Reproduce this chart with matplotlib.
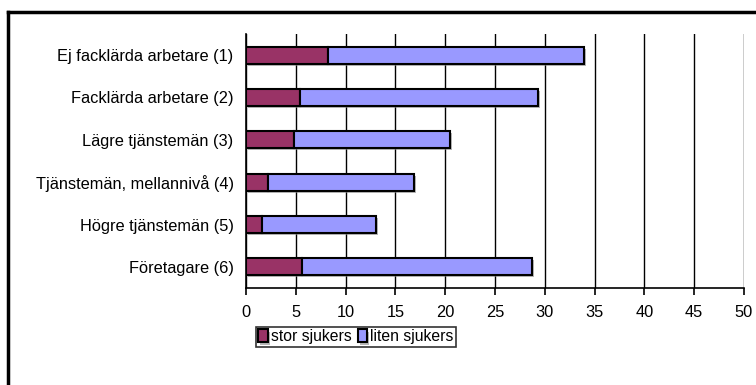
import numpy as np
import matplotlib.pyplot as plt
import matplotlib.patheffects as pe
from matplotlib.lines import Line2D

# Sjukfrånvaro per socioekonomisk grupp
categories = ["Ej facklärda arbetare (1)", "Facklärda arbetare (2)",
              "Lägre tjänstemän (3)", "Tjänstemän, mellannivå (4)",
              "Högre tjänstemän (5)", "Företagare (6)"]
stor = [8.25, 5.4, 4.8, 2.25, 1.6, 5.65]
liten = [25.65, 23.95, 15.7, 14.65, 11.45, 23.1]
series_names = ["stor sjukers", "liten sjukers"]
xticks = [0, 5, 10, 15, 20, 25, 30, 35, 40, 45, 50]

plt.rcParams['font.family'] = ['Liberation Sans', 'DejaVu Sans']

fig = plt.figure(figsize=(7.56, 3.85), dpi=100)
ax = fig.add_axes([246/756, 1-288/385, 498/756, 254/385])

y = np.arange(len(categories))
shadow = [pe.SimplePatchShadow(offset=(1.5, -1.5), shadow_rgbFace='#888888', alpha=0.6), pe.Normal()]
b1 = ax.barh(y, stor, height=0.4, color='#993366', edgecolor='black', linewidth=1.5,
             label=series_names[0], zorder=3)
b2 = ax.barh(y, liten, left=stor, height=0.4, color='#9999FF', edgecolor='black', linewidth=1.5,
             label=series_names[1], zorder=3)
for p in list(b1) + list(b2):
    p.set_path_effects(shadow)

ax.set_xlim(0, 50)
ax.set_ylim(len(categories) - 0.5, -0.5)
ax.set_xticks(xticks)
ax.set_yticks(y)
ax.set_yticklabels(categories, fontsize=11.8)
ax.tick_params(axis='y', length=0, pad=9)
ax.tick_params(axis='x', length=5, width=1.2, direction='out', labelsize=11.8, pad=7)
ax.xaxis.grid(True, color='black', linewidth=1.0)
ax.set_axisbelow(True)
for s in ['top', 'right']:
    ax.spines[s].set_visible(False)
for s in ['left', 'bottom']:
    ax.spines[s].set_linewidth(1.2)

leg = fig.legend(loc='upper left', bbox_to_anchor=(256/756, 1-327/385), ncol=2,
                 fontsize=11.3, frameon=True, fancybox=False, handlelength=0.6,
                 handleheight=0.9, handletextpad=0.2, columnspacing=0.4,
                 borderpad=0.15, borderaxespad=0)
leg.get_frame().set_edgecolor('black')
leg.get_frame().set_linewidth(1.2)

# outer chart frame (left and top edges)
fig.add_artist(Line2D([8/756, 8/756], [0, 1-12/385], color='black', linewidth=2.5))
fig.add_artist(Line2D([8/756, 1], [1-12/385, 1-12/385], color='black', linewidth=2.5))

fig.savefig('out.png', dpi=100)
